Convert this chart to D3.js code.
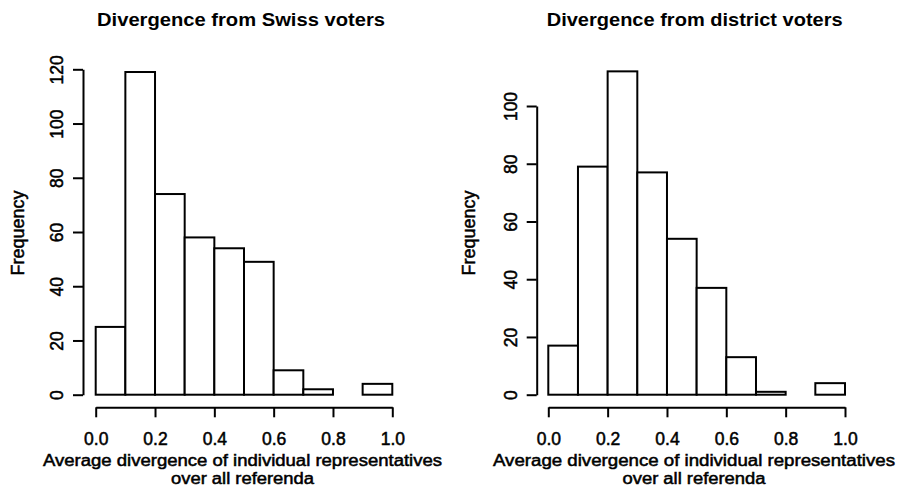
<!DOCTYPE html>
<html>
<head>
<meta charset="utf-8">
<script src="https://cdn.jsdelivr.net/npm/d3@7"></script>
<style>
  body { margin: 0; background: white; }
  text { font-family: "Liberation Sans", Arial, sans-serif; fill: black; }
</style>
</head>
<body>
<script>
// histogram counts, bins of width 0.1 from 0 to 1
const binEdges = [0, 0.1, 0.2, 0.3, 0.4, 0.5, 0.6, 0.7, 0.8, 0.9, 1.0]
const swissCounts = [25, 119, 74, 58, 54, 49, 9, 2, 0, 4]
const districtCounts = [17, 79, 112, 77, 54, 37, 13, 1, 0, 4]

const xTicks = [0, 0.2, 0.4, 0.6, 0.8, 1.0]
const swissYTicks = [0, 20, 40, 60, 80, 100, 120]
const districtYTicks = [0, 20, 40, 60, 80, 100]

const titles = ["Divergence from Swiss voters", "Divergence from district voters"]
const xLabel1 = "Average divergence of individual representatives"
const xLabel2 = "over all referenda"
const yLabel = "Frequency"

//set dimensions
const svgWidth = 900
const svgHeight = 494

let svg = d3.select("body")
    .append("svg")
    .attr("width", svgWidth)
    .attr("height", svgHeight)
    .style("background-color", "white")

// the R bitmap text is heavier than plain Liberation, thicken it a bit
function heavy(sel) {
    sel.style("stroke", "black")
       .style("stroke-width", 0.5)
       .style("font-family", "Liberation Sans, Arial, sans-serif")
}

// one panel = one histogram
function drawHist(opts) {
    let counts = opts.counts
    let yTicks = opts.yTicks

    let xScale = d3.scaleLinear()
        .domain([0, 1])
        .range([opts.x0, opts.x1])

    let yScale = d3.scaleLinear()
        .domain([0, d3.max(yTicks)])
        .range([394.7, opts.yTop])

    let bins = counts.map((c, i) => ({ lo: binEdges[i], hi: binEdges[i + 1], n: c }))

    // bars
    svg.append("g")
        .selectAll("rect")
        .data(bins)
        .enter()
        .append("rect")
        .attr("x", d => xScale(d.lo))
        .attr("y", d => yScale(d.n))
        .attr("width", d => xScale(d.hi) - xScale(d.lo))
        .attr("height", d => yScale(0) - yScale(d.n))
        .style("fill", "white")
        .style("stroke", "black")
        .style("stroke-width", 2)

    // x axis, sits below the bars like R does
    let bottomAxis = d3.axisBottom(xScale)
        .tickValues(xTicks)
        .tickFormat(d3.format(".1f"))
        .tickSize(10)
        .tickSizeOuter(0)
        .tickPadding(15)

    let xAxis = svg.append("g")
        .attr("transform", `translate(0, 407.3)`)
        .call(bottomAxis)

    xAxis.selectAll("path, line")
        .style("stroke", "black")
        .style("stroke-width", 2)
    xAxis.selectAll("text")
        .style("font-size", "17.5px")
        .attr("dy", "0.71em")
        .call(heavy)

    // y axis with rotated tick labels
    let leftAxis = d3.axisLeft(yScale)
        .tickValues(yTicks)
        .tickSize(10)
        .tickSizeOuter(0)

    let yAxis = svg.append("g")
        .attr("transform", `translate(${opts.axisX}, 0)`)
        .call(leftAxis)

    yAxis.selectAll("path, line")
        .style("stroke", "black")
        .style("stroke-width", 2)
    yAxis.selectAll("text")
        .attr("x", null)
        .attr("dy", null)
        .attr("transform", "translate(-20, 0) rotate(-90)")
        .style("text-anchor", "middle")
        .style("font-size", "17.5px")
        .call(heavy)

    // title
    svg.append("text")
        .attr("x", opts.titleX)
        .attr("y", 26)
        .attr("text-anchor", "middle")
        .attr("textLength", opts.titleW)
        .attr("lengthAdjust", "spacingAndGlyphs")
        .style("font-size", "19px")
        .style("font-weight", "bold")
        .text(opts.title)

    // x label on two lines
    svg.append("text")
        .attr("x", opts.labelX)
        .attr("y", 465.5)
        .attr("text-anchor", "middle")
        .attr("textLength", opts.labelW)
        .attr("lengthAdjust", "spacingAndGlyphs")
        .style("font-size", "16px")
        .text(xLabel1)
        .call(heavy)

    svg.append("text")
        .attr("x", opts.labelX)
        .attr("y", 484)
        .attr("text-anchor", "middle")
        .attr("textLength", 143)
        .attr("lengthAdjust", "spacingAndGlyphs")
        .style("font-size", "16px")
        .text(xLabel2)
        .call(heavy)

    svg.append("text")
        .attr("transform", `translate(${opts.yLabelX}, 233) rotate(-90)`)
        .attr("text-anchor", "middle")
        .style("font-size", "18px")
        .text(yLabel)
        .call(heavy)
}

drawHist({ counts: swissCounts, yTicks: swissYTicks, x0: 95.7, x1: 392.3, yTop: 69.3,
    axisX: 83, title: titles[0], titleX: 241, titleW: 288, labelX: 242.5, labelW: 399, yLabelX: 24 })

drawHist({ counts: districtCounts, yTicks: districtYTicks, x0: 548.3, x1: 845, yTop: 106,
    axisX: 536.7, title: titles[1], titleX: 694.7, titleW: 296, labelX: 694, labelW: 402, yLabelX: 475 })
</script>
</body>
</html>
